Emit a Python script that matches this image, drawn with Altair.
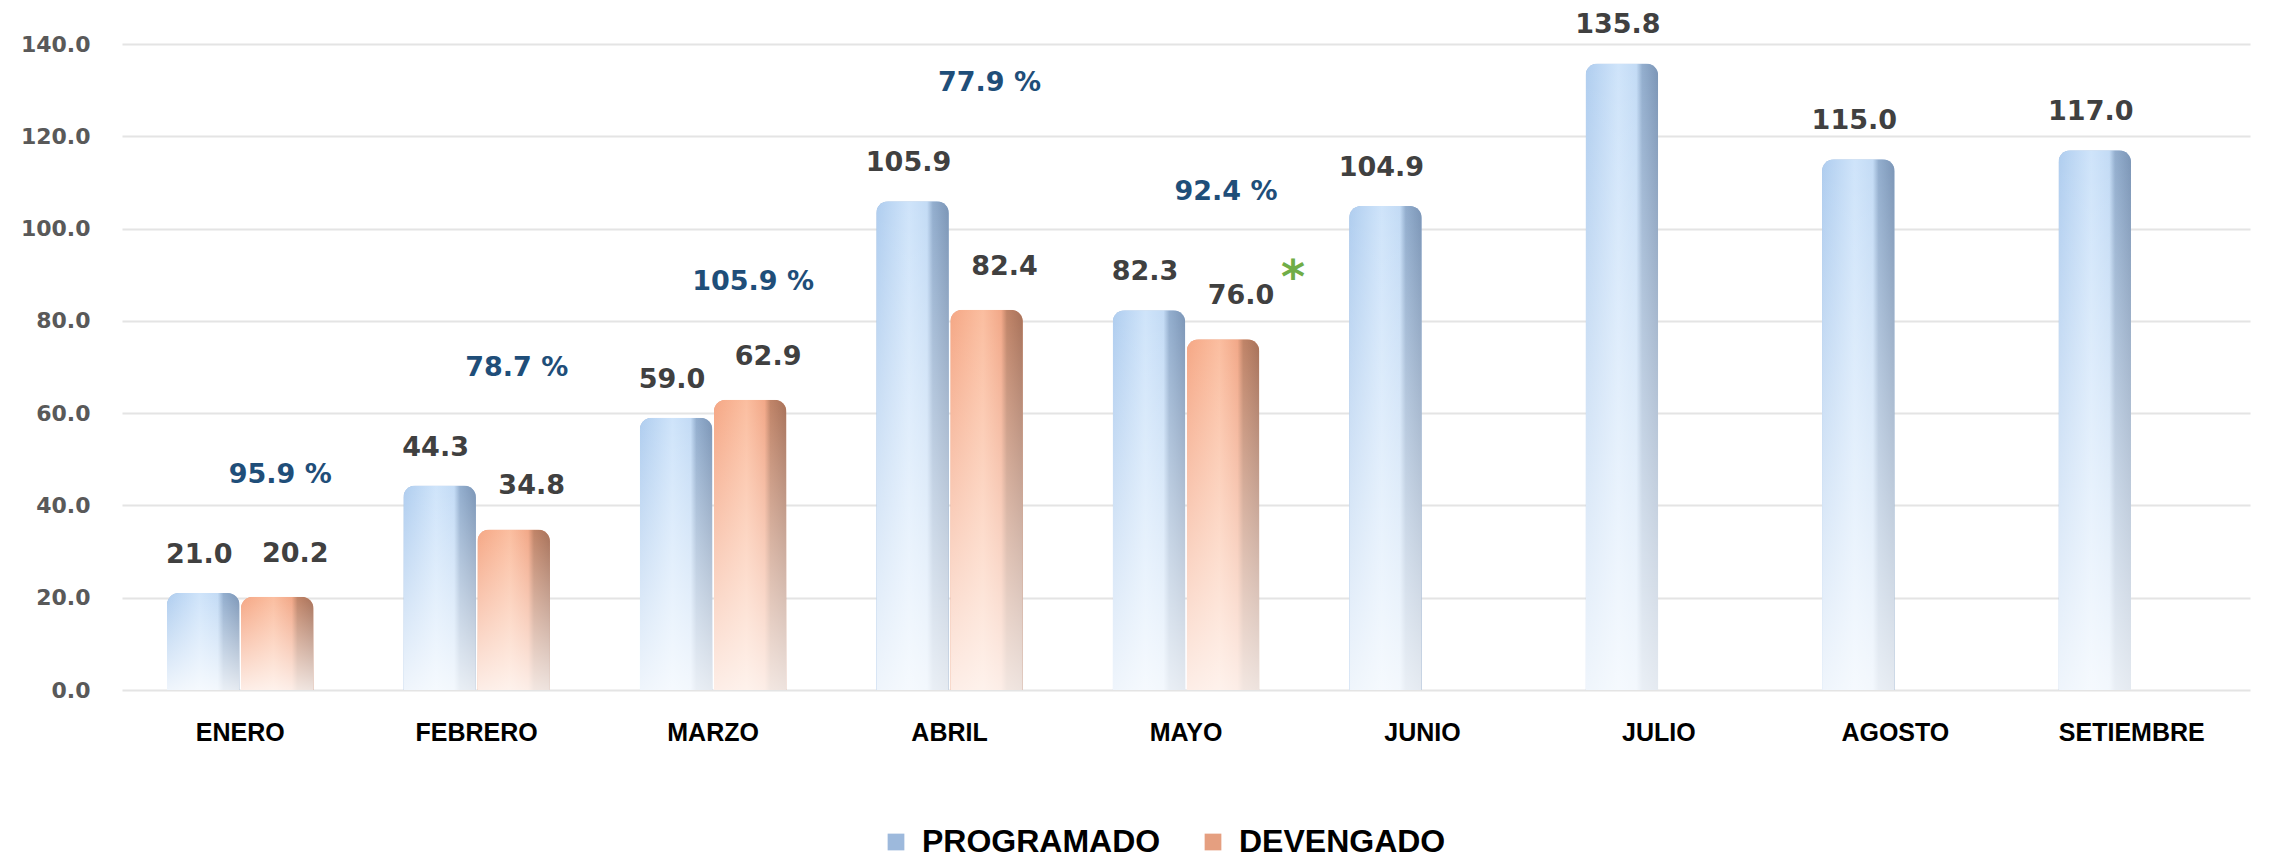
import altair as alt
import pandas as pd

months = ["ENERO", "FEBRERO", "MARZO", "ABRIL", "MAYO", "JUNIO", "JULIO", "AGOSTO", "SETIEMBRE"]
programado = [21.0, 44.3, 59.0, 105.9, 82.3, 104.9, 135.8, 115.0, 117.0]
devengado = [20.2, 34.8, 62.9, 82.4, 76.0, None, None, None, None]
avance = [95.9, 78.7, 105.9, 77.9, 92.4, None, None, None, None]
notes = ["", "", "", "", "*", "", "", "", ""]
series = ["PROGRAMADO", "DEVENGADO"]
y_ticks = [0, 20, 40, 60, 80, 100, 120, 140]

rows = []
for i, m in enumerate(months):
    rows.append({"mes": m, "serie": "PROGRAMADO", "valor": programado[i], "label": f"{programado[i]:.1f}"})
    if devengado[i] is not None:
        rows.append({"mes": m, "serie": "DEVENGADO", "valor": devengado[i], "label": f"{devengado[i]:.1f}"})
df = pd.DataFrame(rows)

pct_rows = []
for i, m in enumerate(months):
    if avance[i] is not None:
        top = max(programado[i], devengado[i] if devengado[i] is not None else 0)
        pct_rows.append({"mes": m, "top": top, "label": f"{avance[i]:.1f} %"})
df_pct = pd.DataFrame(pct_rows)

note_rows = []
for i, m in enumerate(months):
    if notes[i]:
        note_rows.append({"mes": m, "serie": "DEVENGADO", "valor": devengado[i], "note": notes[i]})
df_note = pd.DataFrame(note_rows)

x_enc = alt.X(
    "mes:N", sort=months,
    scale=alt.Scale(domain=months, paddingInner=0.38, paddingOuter=0.19),
    axis=alt.Axis(title=None, labelAngle=0, labelFont="Liberation Sans", labelFontWeight="bold",
                  labelFontSize=25, labelColor="#000000", labelPadding=30, ticks=False, domain=False,
                  grid=False),
)
xo_enc = alt.XOffset("serie:N", scale=alt.Scale(domain=series, paddingInner=0.02))
y_scale = alt.Scale(domain=[0, 140], nice=False)
y_enc = alt.Y(
    "valor:Q", scale=y_scale,
    axis=alt.Axis(values=y_ticks, format=".1f", title=None, labelFont="DejaVu Sans",
                  labelFontWeight="bold", labelFontSize=22, labelColor="#595959", labelPadding=32,
                  ticks=False, domain=False, grid=True, gridColor="#E4E4E4", gridWidth=2),
)

base = alt.Chart(df)

side = base.mark_bar(cornerRadiusTopLeft=12, cornerRadiusTopRight=12).encode(
    x=x_enc, xOffset=xo_enc, y=y_enc,
    color=alt.Color("serie:N", scale=alt.Scale(domain=series, range=["#9DB9DC", "#E59F80"]),
                    legend=alt.Legend(orient="none", legendX=758, legendY=782, direction="horizontal",
                                      title=None, labelFont="Liberation Sans", labelFontSize=32,
                                      labelFontWeight="bold", labelColor="#000000", symbolType="square",
                                      symbolSize=280, symbolStrokeWidth=0, columnPadding=36,
                                      labelOffset=10, labelLimit=0, symbolOpacity=1)),
)

grad_prog = alt.Gradient(
    gradient="linear", x1=0, y1=0, x2=1, y2=0,
    stops=[alt.GradientStop(offset=0, color="#AFCDEF"),
           alt.GradientStop(offset=0.45, color="#CFE4FA"),
           alt.GradientStop(offset=0.7, color="#C3DBF5"),
           alt.GradientStop(offset=0.78, color="#93AECE"),
           alt.GradientStop(offset=1, color="#7B95B6")],
)
grad_dev = alt.Gradient(
    gradient="linear", x1=0, y1=0, x2=1, y2=0,
    stops=[alt.GradientStop(offset=0, color="#F5A785"),
           alt.GradientStop(offset=0.45, color="#FBBEA0"),
           alt.GradientStop(offset=0.7, color="#F2A888"),
           alt.GradientStop(offset=0.78, color="#C08468"),
           alt.GradientStop(offset=1, color="#A77159")],
)
fade = alt.Gradient(
    gradient="linear", x1=0, y1=0, x2=0, y2=1,
    stops=[alt.GradientStop(offset=0, color="rgba(255,255,255,0)"),
           alt.GradientStop(offset=1, color="rgba(255,255,255,0.8)")],
)

face_prog = base.transform_filter(alt.datum.serie == "PROGRAMADO").mark_bar(
    color=grad_prog, cornerRadiusTopLeft=12, cornerRadiusTopRight=12
).encode(x=x_enc, xOffset=xo_enc, y=alt.Y("valor:Q", scale=y_scale))

face_dev = base.transform_filter(alt.datum.serie == "DEVENGADO").mark_bar(
    color=grad_dev, cornerRadiusTopLeft=12, cornerRadiusTopRight=12
).encode(x=x_enc, xOffset=xo_enc, y=alt.Y("valor:Q", scale=y_scale))

shine = base.mark_bar(color=fade, cornerRadiusTopLeft=12, cornerRadiusTopRight=12).encode(
    x=x_enc, xOffset=xo_enc, y=alt.Y("valor:Q", scale=y_scale)
)

values_prog = base.transform_filter(alt.datum.serie == "PROGRAMADO").mark_text(
    font="DejaVu Sans", fontWeight="bold", fontSize=27, color="#404040",
    baseline="middle", dy=-38, dx=-4).encode(
    x=x_enc, xOffset=xo_enc, y=alt.Y("valor:Q", scale=y_scale), text="label:N"
)
values_dev = base.transform_filter(alt.datum.serie == "DEVENGADO").mark_text(
    font="DejaVu Sans", fontWeight="bold", fontSize=27, color="#404040",
    baseline="middle", dy=-43, dx=18).encode(
    x=x_enc, xOffset=xo_enc, y=alt.Y("valor:Q", scale=y_scale), text="label:N"
)

pct = alt.Chart(df_pct).mark_text(font="DejaVu Sans", fontWeight="bold", fontSize=27,
                                  color="#1F4E79", baseline="middle", dx=40, dy=-118).encode(
    x=x_enc, y=alt.Y("top:Q", scale=y_scale), text="label:N"
)

star = alt.Chart(df_note).mark_text(font="DejaVu Sans", fontWeight="bold", fontSize=46,
                                    color="#70AD47", baseline="middle", dx=70, dy=-60).encode(
    x=x_enc, xOffset=xo_enc, y=alt.Y("valor:Q", scale=y_scale), text="note:N"
)

chart = alt.layer(side, face_prog, face_dev, shine, values_prog, values_dev, pct, star).properties(
    width=2128, height=646,
    autosize=alt.AutoSizeParams(type="none"),
    padding={"left": 114, "top": 36, "right": 24, "bottom": 168},
    background="white",
).configure_view(stroke=None)

chart.save("out.html", embed_options={"renderer": "svg", "actions": False})
